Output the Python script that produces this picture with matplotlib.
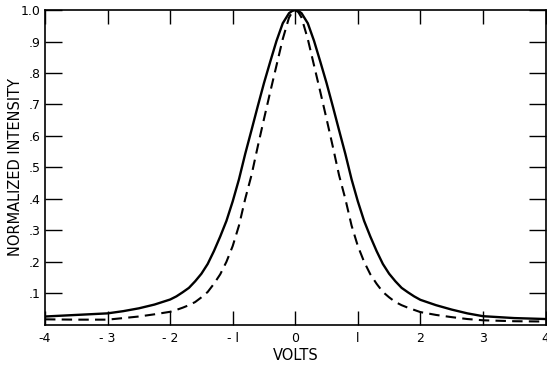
import numpy as np
import matplotlib.pyplot as plt

# values
volts = [-4.0, -3.5, -3.0, -2.75, -2.5, -2.25, -2.0, -1.9, -1.8, -1.7, -1.6, -1.5,
         -1.4, -1.3, -1.2, -1.1, -1.0, -0.9, -0.8, -0.7, -0.6, -0.5, -0.4, -0.3,
         -0.2, -0.1, -0.05, 0.0, 0.05, 0.1, 0.2, 0.3, 0.4, 0.5, 0.6, 0.7, 0.8, 0.9, 1.0, 1.1,
         1.2, 1.3, 1.4, 1.5, 1.6, 1.7, 1.8, 1.9, 2.0, 2.25, 2.5, 2.75, 3.0, 3.5, 4.0]

solid = [0.026, 0.031, 0.036, 0.043, 0.052, 0.064, 0.080, 0.090, 0.103, 0.117, 0.138, 0.162,
         0.193, 0.234, 0.280, 0.330, 0.392, 0.462, 0.543, 0.618, 0.694, 0.768, 0.836, 0.902,
         0.958, 0.990, 0.997, 1.000, 0.997, 0.990, 0.958, 0.902, 0.836, 0.768, 0.694, 0.618, 0.543, 0.462, 0.392, 0.330,
         0.280, 0.234, 0.193, 0.162, 0.138, 0.117, 0.103, 0.090, 0.079, 0.062, 0.048, 0.036, 0.027, 0.021, 0.018]

dashed = [0.017, 0.016, 0.016, 0.021, 0.026, 0.033, 0.041, 0.047, 0.054, 0.062, 0.072, 0.087,
          0.104, 0.130, 0.160, 0.200, 0.250, 0.315, 0.400, 0.475, 0.566, 0.654, 0.740, 0.824,
          0.908, 0.976, 0.993, 1.000, 0.993, 0.976, 0.908, 0.824, 0.740, 0.654, 0.566, 0.475, 0.400, 0.315, 0.250, 0.200,
          0.160, 0.130, 0.104, 0.087, 0.072, 0.062, 0.054, 0.047, 0.040, 0.031, 0.024, 0.018, 0.014, 0.011, 0.010]

xticks = [-4, -3, -2, -1, 0, 1, 2, 3, 4]
xtick_labels = ["-4", "- 3", "- 2", "- l", "0", "l", "2", "3", "4"]
yticks = [0.1, 0.2, 0.3, 0.4, 0.5, 0.6, 0.7, 0.8, 0.9, 1.0]
ytick_labels = [".1", ".2", ".3", ".4", ".5", ".6", ".7", ".8", ".9", "1.0"]

fig = plt.figure(figsize=(5.47, 3.68), dpi=100)
ax = fig.add_axes([0.0823, 0.1177, 0.9150, 0.8550])

ax.plot(volts, solid, color="black", linewidth=1.7, solid_joinstyle="round")
ax.plot(volts, dashed, color="black", linewidth=1.5, dashes=(5, 3))

ax.set_xlim(-4, 4)
ax.set_ylim(0, 1.0)
ax.set_xticks(xticks)
ax.set_xticklabels(xtick_labels)
ax.set_yticks(yticks)
ax.set_yticklabels(ytick_labels)

ax.tick_params(direction="in", length=10, width=1.0, top=True, right=True,
               labelsize=9, pad=5)
ax.tick_params(axis="y", length=12, pad=3)
for s in ax.spines.values():
    s.set_linewidth(1.2)

ax.set_xlabel("VOLTS", fontsize=10.5)
ax.set_ylabel("NORMALIZED INTENSITY", fontsize=10.5)
ax.xaxis.set_label_coords(0.5, -0.075)
ax.yaxis.set_label_coords(-0.044, 0.5)

fig.savefig("out.png", dpi=100)
